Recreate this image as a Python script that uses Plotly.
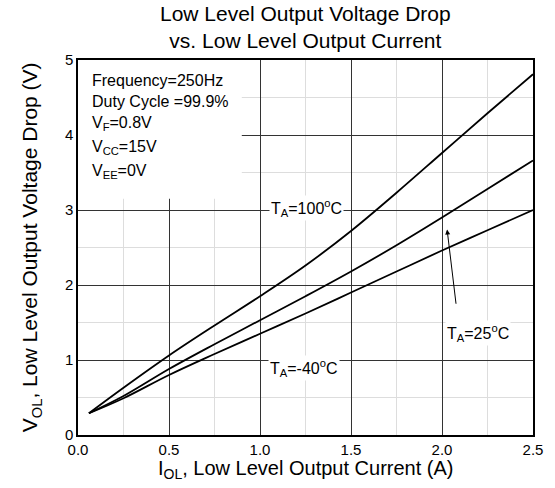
import plotly.graph_objects as go

# Data
current = [0.06, 0.25, 0.5, 0.75, 1.0, 1.25, 1.5, 1.75, 2.0, 2.25, 2.5]
v_100c = [0.29, 0.63, 1.06, 1.46, 1.85, 2.26, 2.72, 3.23, 3.76, 4.29, 4.81]
v_25c = [0.29, 0.52, 0.88, 1.21, 1.53, 1.85, 2.18, 2.53, 2.90, 3.28, 3.66]
v_m40c = [0.29, 0.49, 0.80, 1.08, 1.35, 1.62, 1.90, 2.18, 2.46, 2.73, 3.00]

x_ticks = [0.0, 0.5, 1.0, 1.5, 2.0, 2.5]
x_tick_labels = ["0.0", "0.5", "1.0", "1.5", "2.0", "2.5"]
y_ticks = [0, 1, 2, 3, 4, 5]
y_tick_labels = ["0", "1", "2", "3", "4", "5"]

conditions = [
    "Frequency=250Hz",
    "Duty Cycle =99.9%",
    "V<sub>F</sub>=0.8V",
    "V<sub>CC</sub>=15V",
    "V<sub>EE</sub>=0V",
]
condition_y = [4.724, 4.444, 4.147, 3.827, 3.511]

FONT = "Liberation Sans, Arial, sans-serif"

fig = go.Figure()
for v in (v_100c, v_25c, v_m40c):
    fig.add_trace(go.Scatter(x=current, y=v, mode="lines",
                             line=dict(color="black", width=1.8, shape="spline", smoothing=1.0),
                             showlegend=False, hoverinfo="skip"))

# white background box behind the test conditions (hides the grid)
fig.add_shape(type="rect", xref="x", yref="y", x0=0, x1=0.9, y0=3.15, y1=5,
              fillcolor="white", line=dict(width=0), layer="between")

annotations = []
for txt, yy in zip(conditions, condition_y):
    annotations.append(dict(x=0.065, y=yy, xref="x", yref="y", text=txt, showarrow=False,
                            xanchor="left", yanchor="middle",
                            font=dict(family=FONT, size=16, color="black")))

label_font = dict(family=FONT, size=16, color="black")
annotations += [
    dict(x=1.257, y=3.03, xref="x", yref="y", text="T<sub>A</sub>=100<sup>o</sup>C",
         showarrow=False, bgcolor="white", font=label_font),
    dict(x=2.2, y=1.36, xref="x", yref="y", text="T<sub>A</sub>=25<sup>o</sup>C",
         showarrow=False, bgcolor="white", font=label_font),
    dict(x=1.24, y=0.89, xref="x", yref="y", text="T<sub>A</sub>=-40<sup>o</sup>C",
         showarrow=False, bgcolor="white", font=label_font),
    dict(x=2.028, y=2.74, ax=2.078, ay=1.73, xref="x", yref="y", axref="x", ayref="y",
         text="", showarrow=True, arrowhead=2, arrowsize=1, arrowwidth=1, arrowcolor="black"),
    # title
    dict(x=0.5, y=1, xref="paper", yref="paper", yanchor="bottom", yshift=6,
         text="Low Level Output Voltage Drop<br>vs. Low Level Output Current",
         showarrow=False, font=dict(family=FONT, size=21, color="black")),
    # axis titles
    dict(x=-0.104, y=0.5, xref="paper", yref="paper", textangle=-90,
         text="V<sub>OL</sub>, Low Level Output Voltage Drop (V)", showarrow=False,
         xanchor="center", yanchor="middle", font=dict(family=FONT, size=21, color="black")),
    dict(x=0.5, y=-0.093, xref="paper", yref="paper",
         text="I<sub>OL</sub>, Low Level Output Current (A)", showarrow=False,
         xanchor="center", yanchor="middle", font=dict(family=FONT, size=20, color="black")),
]

fig.update_layout(
    width=555, height=488,
    margin=dict(l=78, r=15, t=60, b=53),
    paper_bgcolor="white", plot_bgcolor="white",
    font=dict(family=FONT, size=15, color="black"),
    annotations=annotations,
)
fig.update_xaxes(range=[0, 2.5], tickvals=x_ticks, ticktext=x_tick_labels,
                 showgrid=True, gridcolor="#333333", gridwidth=1,
                 minor=dict(dtick=0.25, showgrid=True, gridcolor="#dddddd", gridwidth=1),
                 showline=True, linecolor="black", linewidth=1.5, mirror=True,
                 ticks="", zeroline=False, tickfont=dict(size=15))
fig.update_yaxes(range=[0, 5], tickvals=y_ticks, ticktext=y_tick_labels,
                 showgrid=True, gridcolor="#333333", gridwidth=1,
                 minor=dict(dtick=0.5, showgrid=True, gridcolor="#dddddd", gridwidth=1),
                 showline=True, linecolor="black", linewidth=1.5, mirror=True,
                 ticks="", zeroline=False, tickfont=dict(size=15))

fig.write_html("out.html")
